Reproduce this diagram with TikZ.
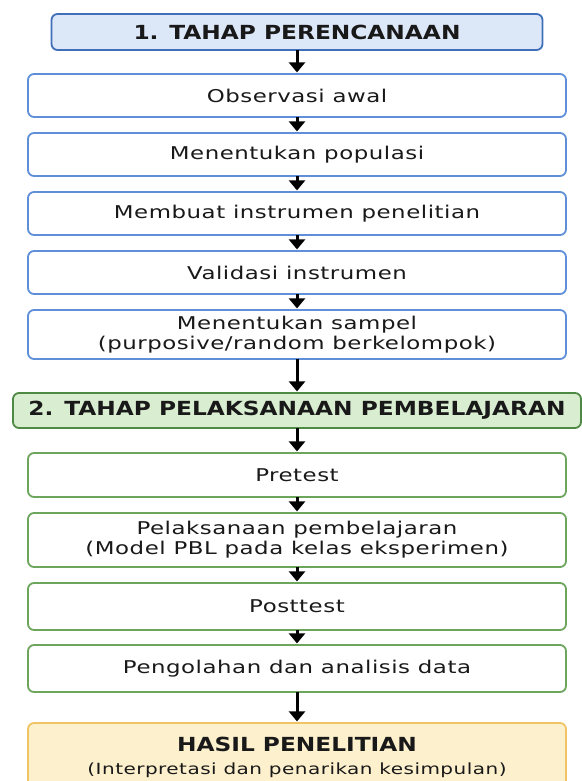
\documentclass[tikz,border=0pt]{standalone}
\usepackage{fontspec}
\setmainfont{DejaVu Sans}[FakeStretch=1.2]
\newfontfamily\bodyfont{DejaVu Sans}[FakeStretch=1.3,LetterSpace=3]
\usepackage{xcolor}
\usepackage{tikz}
\usetikzlibrary{positioning,arrows.meta}

\definecolor{planedge}{HTML}{3F6FB8}
\definecolor{planfill}{HTML}{DCE7F8}
\definecolor{boxedge}{HTML}{5E8FD8}
\definecolor{execedge}{HTML}{4F8A45}
\definecolor{execfill}{HTML}{D9EDD0}
\definecolor{greenedge}{HTML}{6CA55C}
\definecolor{resultedge}{HTML}{F0C465}
\definecolor{resultfill}{HTML}{FDF0CD}

\begin{document}
\begin{tikzpicture}[node distance=8pt,
			base/.style={draw, rectangle, rounded corners=3pt, line width=0.9pt, outer sep=0pt, align=center, inner sep=2pt, text=black!90, font=\bodyfont\fontsize{8.8}{10}\selectfont},
			planhead/.style={base, draw=planedge, fill=planfill, minimum width=245.5pt, minimum height=18pt, font=\fontsize{9.7}{11.5}\selectfont\bfseries},
			planbox/.style={base, draw=boxedge, fill=white, minimum width=269pt, minimum height=21.5pt},
			exechead/.style={base, draw=execedge, fill=execfill, minimum width=284pt, minimum height=17.5pt, font=\fontsize{9.7}{11.5}\selectfont\bfseries},
			execbox/.style={base, draw=greenedge, fill=white, minimum width=269pt, minimum height=22pt},
			resultbox/.style={base, draw=resultedge, fill=resultfill, minimum width=269pt, minimum height=34pt},
			arrow/.style={-{Triangle[width=8pt,length=5pt]}, line width=1.5pt, shorten >=0.8pt}]
			
			\clip (0,0) rectangle (291pt,-390.5pt);
			
			\node[planhead] (plan) at (148.5pt,-16pt) {1. TAHAP PERENCANAAN};
			\node[planbox, below=12pt of plan] (obs) {Observasi awal};
			\node[planbox, below=of obs] (pop) {Menentukan populasi};
			\node[planbox, below=of pop] (inst) {Membuat instrumen penelitian};
			\node[planbox, below=of inst] (val) {Validasi instrumen};
			\node[planbox, below=of val, minimum height=24.5pt] (sampel) {Menentukan sampel\\(purposive/random berkelompok)};
			
			\node[exechead, below=17pt of sampel] (exec) {2. TAHAP PELAKSANAAN PEMBELAJARAN};
			\node[execbox, below=12.5pt of exec] (pre) {Pretest};
			\node[execbox, below=of pre, minimum height=27pt] (pbl) {Pelaksanaan pembelajaran\\(Model PBL pada kelas eksperimen)};
			\node[execbox, below=of pbl, minimum height=23.5pt] (post) {Posttest};
			\node[execbox, below=7.5pt of post, minimum height=23.5pt] (olah) {Pengolahan dan analisis data};
			
			\node[resultbox, below=15.5pt of olah] (hasil) {{\rmfamily\fontsize{9.7}{11}\selectfont\bfseries HASIL PENELITIAN}\\[1.5pt]{\fontsize{7.7}{9}\selectfont(Interpretasi dan penarikan kesimpulan)}};
			
			\draw[arrow] (plan) -- (obs);
			\draw[arrow] (obs) -- (pop);
			\draw[arrow] (pop) -- (inst);
			\draw[arrow] (inst) -- (val);
			\draw[arrow] (val) -- (sampel);
			\draw[arrow] (sampel) -- (exec);
			\draw[arrow] (exec) -- (pre);
			\draw[arrow] (pre) -- (pbl);
			\draw[arrow] (pbl) -- (post);
			\draw[arrow] (post) -- (olah);
			\draw[arrow] (olah) -- (hasil);
			
		\end{tikzpicture}
\end{document}
